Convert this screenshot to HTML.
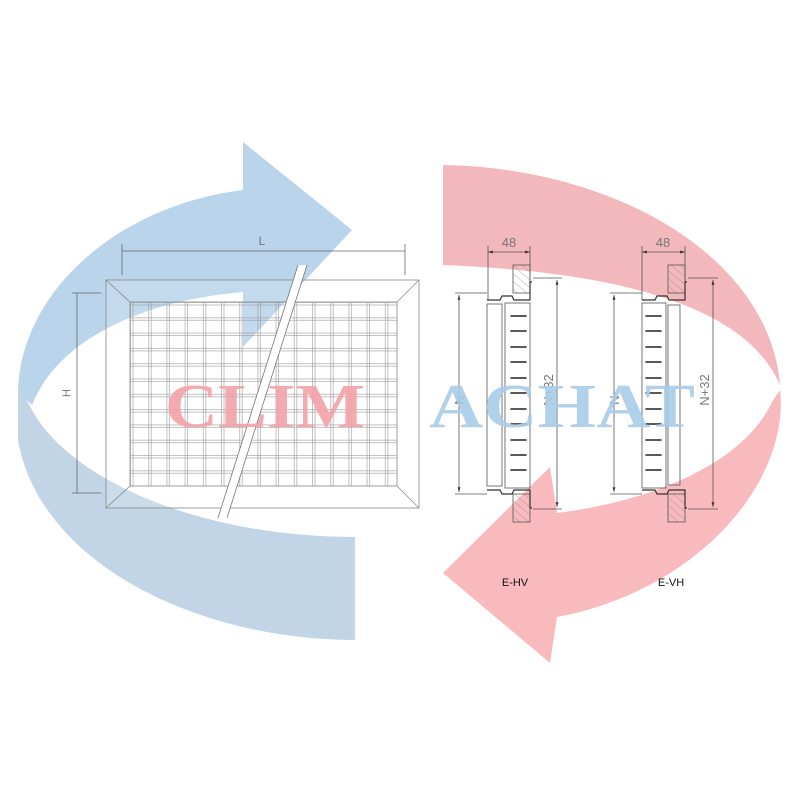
<!DOCTYPE html>
<html><head><meta charset="utf-8"><style>
html,body{margin:0;padding:0;background:#fff;width:800px;height:800px;overflow:hidden}
svg{display:block}
</style></head><body>
<svg width="800" height="800" viewBox="0 0 800 800" xmlns="http://www.w3.org/2000/svg">
<defs>
<pattern id="gv" x="130" y="0" width="18.2" height="10" patternUnits="userSpaceOnUse">
<line x1="0.5" y1="0" x2="0.5" y2="10" stroke="#999" stroke-width="0.6"/>
<line x1="3" y1="0" x2="3" y2="10" stroke="#999" stroke-width="0.6"/>
</pattern>
<pattern id="gh" x="0" y="302" width="10" height="15.3" patternUnits="userSpaceOnUse">
<line x1="0" y1="0.5" x2="10" y2="0.5" stroke="#999" stroke-width="0.6"/>
<line x1="0" y1="3" x2="10" y2="3" stroke="#999" stroke-width="0.6"/>
</pattern>
<pattern id="hat" width="6" height="6" patternUnits="userSpaceOnUse" patternTransform="rotate(-50)">
<line x1="0" y1="0" x2="0" y2="6" stroke="#777" stroke-width="0.6"/>
</pattern>
<marker id="ar" viewBox="0 0 10 10" refX="10" refY="5" markerWidth="6" markerHeight="6" orient="auto-start-reverse"><path d="M0,2 L10,5 L0,8 Z" fill="#333"/></marker>
</defs>

<!-- blue arrow -->
<path d="M32,405 C60,335 150,300 243,292 L243,347 L352,230 L243,142 L243,190 C120,205 20,290 18,393 Z" fill="#b9d4eb"/>
<path d="M18,385 L18,440 C40,565 200,640 355,640 L355,537 C200,537 70,480 32,410 Z" fill="#c1d5e6"/>

<!-- red arrow -->
<path d="M443,165 C620,168 770,260 780,385 C760,340 700,275 443,265 Z" fill="#f3b8bb"/>
<path d="M780,390 C790,480 700,590 557,617 L550,663 L443,573 L550,467 L557,513 C660,500 745,460 772,402 Z" fill="#f9babe"/>

<!-- grille -->
<g fill="none" stroke="#888" stroke-width="0.8">
<rect x="106" y="280" width="313" height="228" fill="rgba(255,255,255,0.15)"/>
<rect x="130" y="302" width="267" height="184"/>
<line x1="106" y1="280" x2="130" y2="302"/><line x1="419" y1="280" x2="397" y2="302"/>
<line x1="106" y1="508" x2="130" y2="486"/><line x1="419" y1="508" x2="397" y2="486"/>
</g>
<rect x="130" y="302" width="267" height="184" fill="url(#gv)"/>
<rect x="130" y="302" width="267" height="184" fill="url(#gh)"/>
<polygon points="298,265 307,265 227,518 218,518" fill="#fff"/>
<line x1="298" y1="265" x2="218" y2="518" stroke="#777" stroke-width="0.8"/>
<line x1="307" y1="265" x2="227" y2="518" stroke="#777" stroke-width="0.8"/>
<g stroke="#666" stroke-width="0.8">
<line x1="122" y1="251" x2="405" y2="251"/><line x1="122" y1="244" x2="122" y2="275"/><line x1="405" y1="244" x2="405" y2="275"/>
<line x1="77" y1="293" x2="77" y2="493"/><line x1="72" y1="293" x2="101" y2="293"/><line x1="72" y1="493" x2="101" y2="493"/>
</g>
<text x="262" y="245" font-family="Liberation Sans,sans-serif" font-size="12" fill="#777" text-anchor="middle">L</text>
<text x="0" y="0" font-family="Liberation Sans,sans-serif" font-size="11" fill="#777" text-anchor="middle" transform="translate(70,393) rotate(-90)">H</text>

<!-- section E-HV -->
<g stroke="#555" stroke-width="0.8" fill="none">
<line x1="488" y1="246" x2="488" y2="300"/><line x1="530" y1="246" x2="530" y2="300"/>
<line x1="488" y1="252" x2="530" y2="252" marker-start="url(#ar)" marker-end="url(#ar)"/>
<rect x="513" y="265" width="17" height="28" fill="url(#hat)"/>
<rect x="513" y="494" width="17" height="28" fill="url(#hat)"/>
<path d="M487,300 L500,300 L502,296 L512,296 L514,300 L530,300 L530,282 L532,282" stroke="#333" stroke-width="1.2"/>
<path d="M487,490 L500,490 L502,494 L512,494 L514,490 L530,490 L530,508 L532,508" stroke="#333" stroke-width="1.2"/>
<rect x="487" y="304" width="15" height="182"/>
<rect x="505" y="303" width="25" height="185"/>
<line x1="459" y1="295" x2="459" y2="492" marker-start="url(#ar)" marker-end="url(#ar)"/>
<line x1="455" y1="293" x2="487" y2="293"/><line x1="455" y1="494" x2="487" y2="494"/>
<line x1="557" y1="280" x2="557" y2="507" marker-start="url(#ar)" marker-end="url(#ar)"/>
<line x1="533" y1="278" x2="562" y2="278"/><line x1="533" y1="509" x2="562" y2="509"/>
</g>
<!-- section E-VH -->
<g stroke="#555" stroke-width="0.8" fill="none">
<line x1="642" y1="246" x2="642" y2="300"/><line x1="685" y1="246" x2="685" y2="300"/>
<line x1="642" y1="252" x2="685" y2="252" marker-start="url(#ar)" marker-end="url(#ar)"/>
<rect x="668" y="265" width="17" height="28" fill="url(#hat)"/>
<rect x="668" y="494" width="17" height="28" fill="url(#hat)"/>
<path d="M642,300 L655,300 L657,296 L667,296 L669,300 L685,300 L685,282 L687,282" stroke="#333" stroke-width="1.2"/>
<path d="M642,490 L655,490 L657,494 L667,494 L669,490 L685,490 L685,508 L687,508" stroke="#333" stroke-width="1.2"/>
<rect x="642" y="303" width="24" height="185"/>
<rect x="668" y="305" width="12" height="180"/>
<line x1="614" y1="295" x2="614" y2="492" marker-start="url(#ar)" marker-end="url(#ar)"/>
<line x1="610" y1="293" x2="642" y2="293"/><line x1="610" y1="494" x2="642" y2="494"/>
<line x1="713" y1="280" x2="713" y2="507" marker-start="url(#ar)" marker-end="url(#ar)"/>
<line x1="688" y1="278" x2="718" y2="278"/><line x1="688" y1="509" x2="718" y2="509"/>
</g>
<g stroke="#222" stroke-width="1.6" stroke-linecap="round">
<line x1="511" y1="316" x2="526" y2="316"/><line x1="511" y1="331" x2="526" y2="331"/><line x1="511" y1="347" x2="526" y2="347"/><line x1="511" y1="362" x2="526" y2="362"/><line x1="511" y1="378" x2="526" y2="378"/><line x1="511" y1="393" x2="526" y2="393"/><line x1="511" y1="409" x2="526" y2="409"/><line x1="511" y1="424" x2="526" y2="424"/><line x1="511" y1="440" x2="526" y2="440"/><line x1="511" y1="455" x2="526" y2="455"/><line x1="511" y1="470" x2="526" y2="470"/>
<line x1="646" y1="316" x2="661" y2="316"/><line x1="646" y1="331" x2="661" y2="331"/><line x1="646" y1="347" x2="661" y2="347"/><line x1="646" y1="362" x2="661" y2="362"/><line x1="646" y1="378" x2="661" y2="378"/><line x1="646" y1="393" x2="661" y2="393"/><line x1="646" y1="409" x2="661" y2="409"/><line x1="646" y1="424" x2="661" y2="424"/><line x1="646" y1="440" x2="661" y2="440"/><line x1="646" y1="455" x2="661" y2="455"/><line x1="646" y1="470" x2="661" y2="470"/>
</g>
<g font-family="Liberation Sans,sans-serif" fill="#777" font-size="13">
<text x="509" y="247" text-anchor="middle">48</text>
<text x="663" y="247" text-anchor="middle">48</text>
<text transform="translate(455,400) rotate(90)" text-anchor="middle">N</text>
<text transform="translate(610,400) rotate(90)" text-anchor="middle">N</text>
<text transform="translate(553,390) rotate(-90)" text-anchor="middle">N+32</text>
<text transform="translate(709,390) rotate(-90)" text-anchor="middle">N+32</text>
</g>
<g font-family="Liberation Sans,sans-serif" fill="#111" font-size="11">
<text x="515" y="586" text-anchor="middle">E-HV</text>
<text x="671" y="586" text-anchor="middle">E-VH</text>
</g>

<!-- watermark -->
<text x="265" y="427" font-family="Liberation Serif,serif" font-weight="bold" font-size="62" fill="#f2a2a7" fill-opacity="0.9" text-anchor="middle" textLength="200" lengthAdjust="spacingAndGlyphs">CLIM</text>
<text x="562" y="427" font-family="Liberation Serif,serif" font-weight="bold" font-size="62" fill="#a9cbe8" fill-opacity="0.9" text-anchor="middle" textLength="266" lengthAdjust="spacingAndGlyphs">ACHAT</text>
</svg>
</body></html>
